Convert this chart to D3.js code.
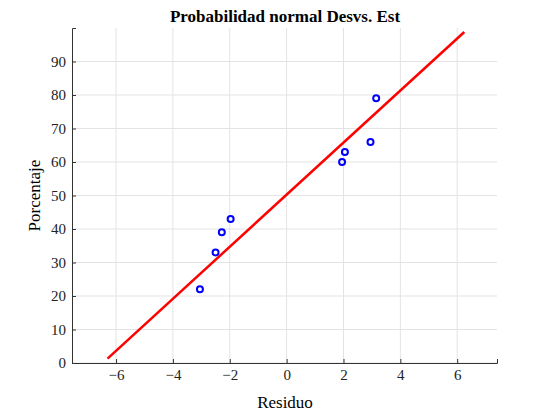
<!DOCTYPE html>
<html><head><meta charset="utf-8">
<script src="https://cdn.jsdelivr.net/npm/d3@7"></script>
<style>body{margin:0;background:#fff}text{font-family:"Liberation Serif","Times New Roman",serif}</style>
</head><body>
<svg id="c" width="550" height="414"></svg>
<script>
const residuals = [-3.05, -2.5, -2.28, -1.97, 1.95, 2.05, 2.95, 3.15];
const percents = [22, 33, 39, 43, 60, 63, 66, 79];
const fitX = [-6.3, 6.25];
const fitY = [1.3, 98.8];
const xTicks = [-6, -4, -2, 0, 2, 4, 6];
const yTicks = [0, 10, 20, 30, 40, 50, 60, 70, 80, 90];

const svg = d3.select("#c");
const L = 72, R = 497, T = 28, B = 363;
const x = d3.scaleLinear().domain([-7.55, 7.4]).range([L, R]);
const y = d3.scaleLinear().domain([0, 100]).range([B, T]);

const g = svg.append("g");
g.selectAll(".gx").data(xTicks).enter().append("line")
  .attr("x1", d => x(d)).attr("x2", d => x(d)).attr("y1", T).attr("y2", B)
  .attr("stroke", "#e3e3e3");
g.selectAll(".gy").data(yTicks).enter().append("line")
  .attr("y1", d => y(d)).attr("y2", d => y(d)).attr("x1", L).attr("x2", R)
  .attr("stroke", "#e3e3e3");

const xa = svg.append("g").attr("transform", `translate(0,${B})`)
  .call(d3.axisBottom(x).tickValues(xTicks).tickSize(-4).tickPadding(6));
const ya = svg.append("g").attr("transform", `translate(${L},0)`)
  .call(d3.axisLeft(y).tickValues(yTicks).tickSize(-4).tickPadding(6));
[xa, ya].forEach(a => {
  a.selectAll("text").attr("font-size", 15).attr("fill", "#222")
    .attr("font-family", '"Liberation Serif",serif');
  a.select(".domain").attr("stroke", "#333");
  a.selectAll(".tick line").attr("stroke", "#333");
});

svg.append("line")
  .attr("x1", x(fitX[0])).attr("y1", y(fitY[0]))
  .attr("x2", x(fitX[1])).attr("y2", y(fitY[1]))
  .attr("stroke", "#ff0000").attr("stroke-width", 2.5);

svg.selectAll(".pt").data(residuals).enter().append("circle")
  .attr("cx", d => x(d)).attr("cy", (d, i) => y(percents[i]))
  .attr("r", 3).attr("fill", "none").attr("stroke", "#0000ff").attr("stroke-width", 2);

svg.append("text").attr("x", 285).attr("y", 22).attr("text-anchor", "middle")
  .attr("font-size", 17).attr("font-weight", "bold").text("Probabilidad normal Desvs. Est");
svg.append("text").attr("x", 285).attr("y", 408).attr("text-anchor", "middle")
  .attr("font-size", 17).text("Residuo");
svg.append("text").attr("transform", `translate(40,${(T + B) / 2}) rotate(-90)`)
  .attr("text-anchor", "middle").attr("font-size", 17).text("Porcentaje");
</script>
</body></html>
